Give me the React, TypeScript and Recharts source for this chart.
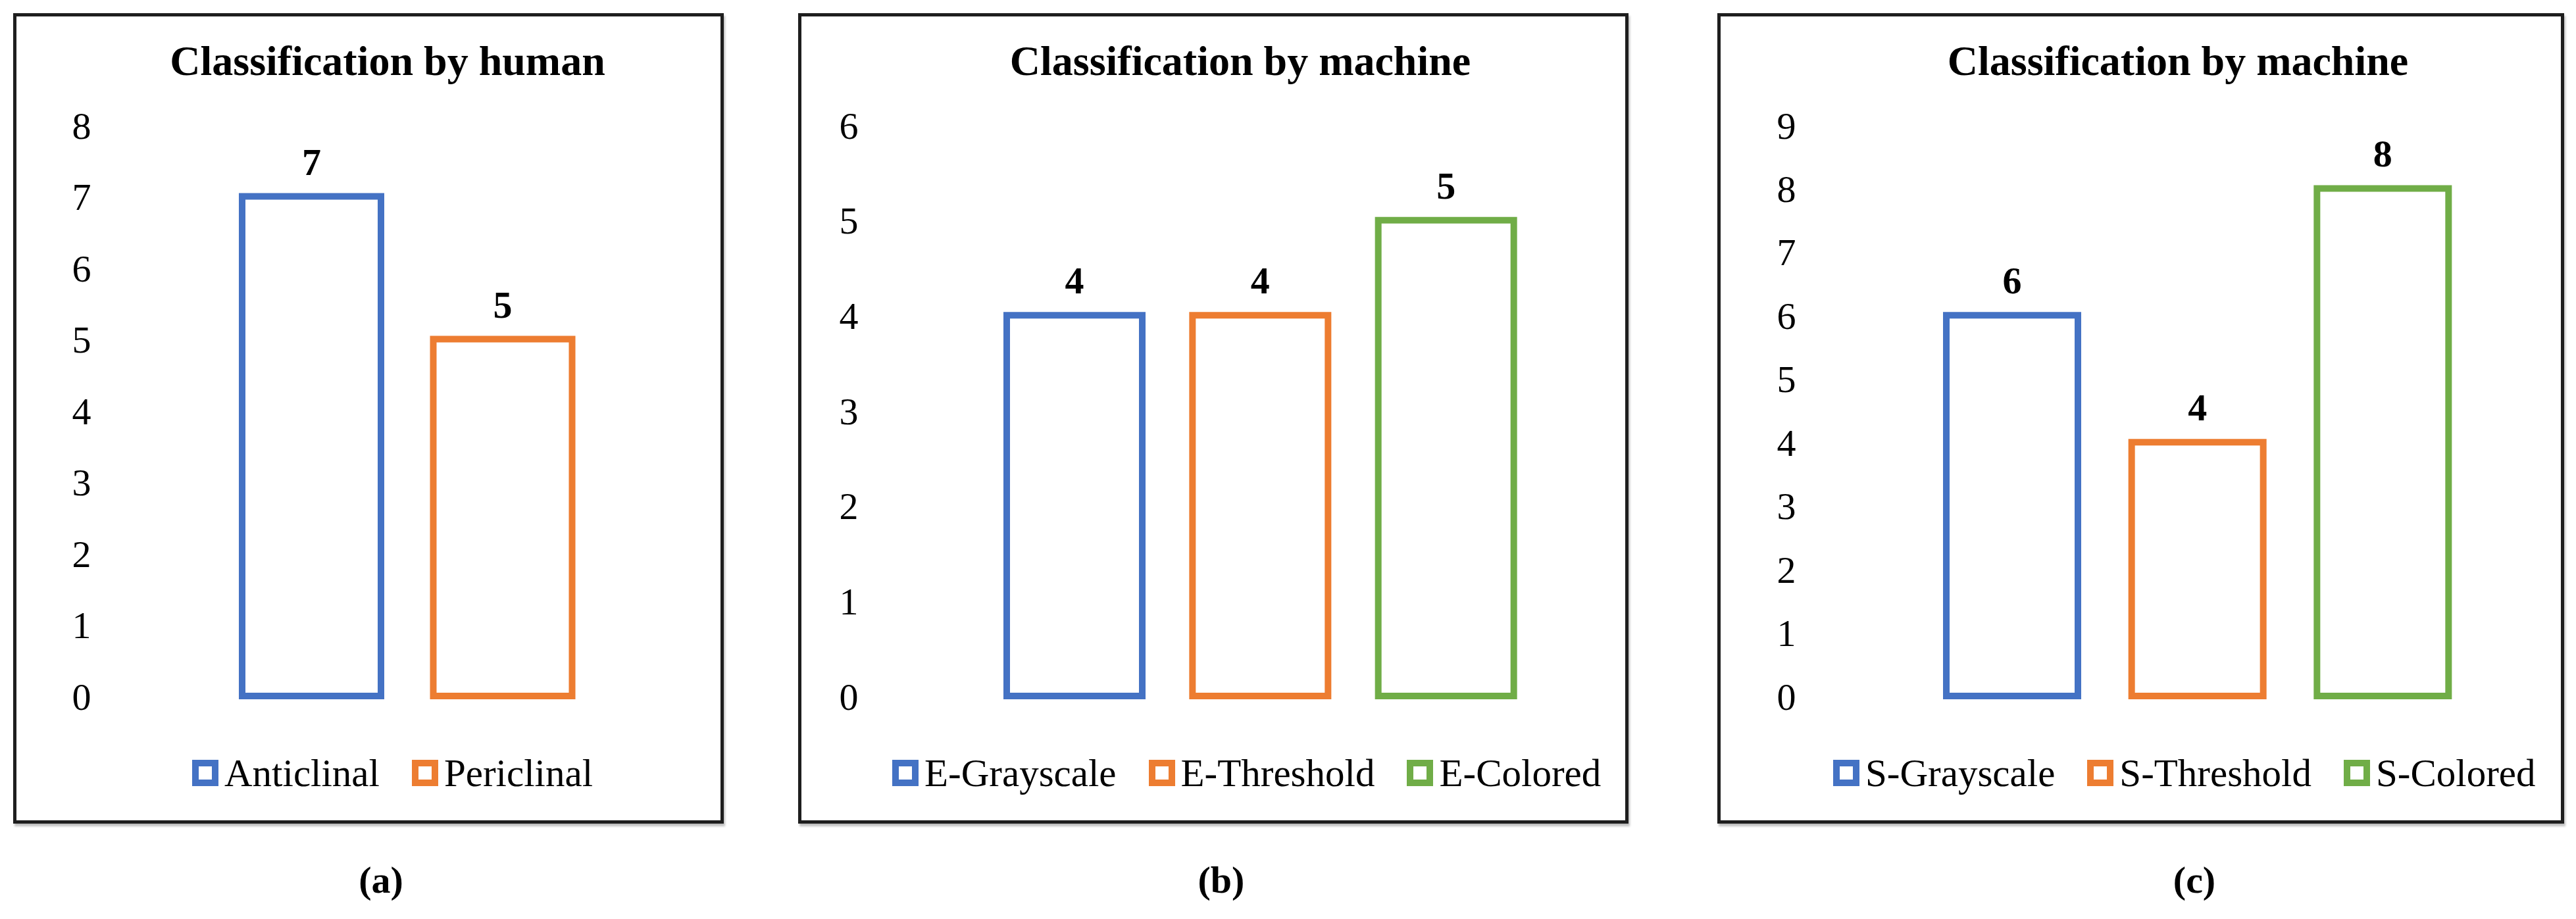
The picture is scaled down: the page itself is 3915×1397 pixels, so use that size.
import React from 'react';
import { BarChart, Bar, XAxis, YAxis, Cell, LabelList, Legend } from 'recharts';

// (a) human classification
const humanLabels = ['Anticlinal', 'Periclinal'];
const humanCounts = [7, 5];
const humanTicks = [0, 1, 2, 3, 4, 5, 6, 7, 8];

// (b) machine classification, E- images
const eLabels = ['E-Grayscale', 'E-Threshold', 'E-Colored'];
const eCounts = [4, 4, 5];
const eTicks = [0, 1, 2, 3, 4, 5, 6];

// (c) machine classification, S- images
const sLabels = ['S-Grayscale', 'S-Threshold', 'S-Colored'];
const sCounts = [6, 4, 8];
const sTicks = [0, 1, 2, 3, 4, 5, 6, 7, 8, 9];

const COLORS = ['#4472C4', '#ED7D31', '#70AD47'];
const FONT = '"Liberation Serif", "Times New Roman", serif';

const PANEL_TOP = 20;
const PANEL_H = 1232;
const PLOT_TOP = 170;
const PLOT_BOTTOM = 1038;

interface PanelProps {
    left: number;
    width: number;
    title: string;
    caption: string;
    labels: string[];
    counts: number[];
    ticks: number[];
    plotLeft: number;
    plotRight: number;
    tickRight: number;
    barSize: number;
    titleX: number;
    captionX: number;
    legendLeft: number;
}

const Panel: React.FC<PanelProps> = (p) => {
    const data = p.labels.map((name, i) => ({ name, value: p.counts[i] }));

    const renderLegend = () => (
        <div style={{ display: 'flex', alignItems: 'center', whiteSpace: 'nowrap' }}>
            {p.labels.map((l, i) => (
                <div key={l} style={{ display: 'flex', alignItems: 'center', marginRight: i < p.labels.length - 1 ? 49 : 0 }}>
                    <span style={{ display: 'inline-block', width: 40, height: 40, boxSizing: 'border-box', border: `10px solid ${COLORS[i]}`, background: '#fff', marginRight: 9 }} />
                    <span style={{ fontSize: 59, lineHeight: '60px', fontFamily: FONT, color: '#000' }}>{l}</span>
                </div>
            ))}
        </div>
    );

    return (
        <div style={{ position: 'absolute', left: p.left, top: PANEL_TOP, width: p.width, height: PANEL_H }}>
            <div style={{ position: 'absolute', left: 0, top: 0, width: '100%', height: '100%', boxSizing: 'border-box', border: '5px solid #1e1e1e', boxShadow: '2px 4px 3px rgba(0,0,0,0.25)' }} />
            <div style={{ position: 'absolute', left: p.titleX - 600, top: 41, width: 1200, textAlign: 'center', fontFamily: FONT, fontWeight: 'bold', fontSize: 64, lineHeight: '64px', color: '#000' }}>
                {p.title}
            </div>
            <div style={{ position: 'absolute', left: 0, top: 0 }}>
                <BarChart
                    width={p.width}
                    height={PANEL_H}
                    data={data}
                    margin={{ top: PLOT_TOP, right: p.width - p.plotRight, bottom: PANEL_H - PLOT_BOTTOM, left: 0 }}
                >
                    <XAxis dataKey="name" hide />
                    <YAxis
                        width={p.plotLeft}
                        domain={[0, p.ticks[p.ticks.length - 1]]}
                        ticks={p.ticks}
                        interval={0}
                        axisLine={false}
                        tickLine={false}
                        tickSize={0}
                        tickMargin={p.plotLeft - p.tickRight}
                        tick={{ fontSize: 58, fill: '#000', fontFamily: FONT }}
                    />
                    <Legend
                        layout="horizontal"
                        verticalAlign="middle"
                        align="center"
                        wrapperStyle={{ left: p.legendLeft, top: 1125, width: 'auto' }}
                        content={renderLegend}
                    />
                    <Bar dataKey="value" barSize={p.barSize} isAnimationActive={false}>
                        {data.map((entry, index) => (
                            <Cell key={`cell-${index}`} fill="#ffffff" stroke={COLORS[index % COLORS.length]} strokeWidth={10} />
                        ))}
                        <LabelList dataKey="value" position="top" offset={33} fill="#000" fontSize={58} fontWeight="bold" fontFamily={FONT} />
                    </Bar>
                </BarChart>
            </div>
            <div style={{ position: 'absolute', left: p.captionX - 200, top: 1289, width: 400, textAlign: 'center', fontFamily: FONT, fontWeight: 'bold', fontSize: 58, lineHeight: '58px', color: '#000' }}>
                {p.caption}
            </div>
        </div>
    );
};

const App: React.FC = () => {
    return (
        <div style={{ position: 'absolute', left: 0, top: 0, width: 3915, height: 1397, background: '#fff', overflow: 'hidden' }}>
            <Panel
                left={20} width={1080}
                title="Classification by human" caption="(a)"
                labels={humanLabels} counts={humanCounts} ticks={humanTicks}
                plotLeft={308} plotRight={889} tickRight={118.5} barSize={211}
                titleX={569} captionX={559} legendLeft={272}
            />
            <Panel
                left={1213} width={1262}
                title="Classification by machine" caption="(b)"
                labels={eLabels} counts={eCounts} ticks={eTicks}
                plotLeft={279} plotRight={1126} tickRight={91.5} barSize={206}
                titleX={672} captionX={643} legendLeft={143}
            />
            <Panel
                left={2610} width={1287}
                title="Classification by machine" caption="(c)"
                labels={sLabels} counts={sCounts} ticks={sTicks}
                plotLeft={307} plotRight={1152} tickRight={119.5} barSize={200}
                titleX={700} captionX={725} legendLeft={176}
            />
        </div>
    );
};

export default App;
